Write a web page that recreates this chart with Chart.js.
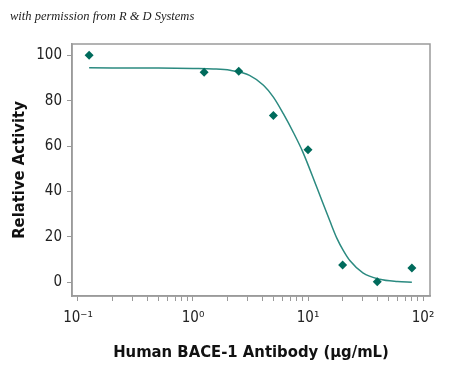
<!DOCTYPE html>
<html>
<head>
<meta charset="utf-8">
<script src="https://cdn.jsdelivr.net/npm/chart.js@4"></script>
<style>
  html, body { margin: 0; padding: 0; background: #fff; }
  #wrap { width: 450px; height: 368px; }
</style>
</head>
<body>
<div id="wrap"><canvas id="chart"></canvas></div>
<script>
// measured points (µg/mL, % activity)
const doseValues = [0.125, 1.25, 2.5, 5, 10, 20, 40, 80];
const activityValues = [100, 92.6, 93, 73.5, 58.4, 7.6, 0.3, 6.3];

// fitted curve
const curveDose = [0.125, 0.5, 1, 1.5, 2.1, 3.1, 4.1, 5, 6.1, 7.5, 9, 11.9, 15.5, 17.8, 20.3, 23.2, 30, 42, 60, 80];
const curveActivity = [94.5, 94.4, 94.2, 94, 93.4, 91.2, 86.8, 81.6, 74.3, 65.8, 57.5, 42, 27, 19.5, 14, 9.5, 4.2, 1.4, 0.4, 0.1];

const yTicks = [0, 20, 40, 60, 80, 100];
const xTickLabels = { '-1': '10⁻¹', '0': '10⁰', '1': '10¹', '2': '10²' };

const TEAL = '#006b5c';
const LINE = '#2b8a80';
const FRAME = '#9a9a9a';
const FONT = "'DejaVu Sans Condensed', 'DejaVu Sans', sans-serif";

// gray box around the plot area
const frame = {
  id: 'frame',
  afterDraw(chart) {
    const { ctx, chartArea: a } = chart;
    ctx.save();
    ctx.strokeStyle = FRAME;
    ctx.lineWidth = 1.5;
    ctx.strokeRect(a.left, a.top, a.right - a.left, a.bottom - a.top);
    ctx.restore();
  },
};

new Chart(document.getElementById('chart'), {
  type: 'line',
  data: {
    datasets: [
      {
        label: 'fit',
        data: curveDose.map((d, i) => ({ x: d, y: curveActivity[i] })),
        borderColor: LINE,
        borderWidth: 1.5,
        pointRadius: 0,
        cubicInterpolationMode: 'monotone',
        order: 2,
      },
      {
        label: 'data',
        data: doseValues.map((d, i) => ({ x: d, y: activityValues[i] })),
        showLine: false,
        pointStyle: 'rectRot',
        pointRadius: 4.5,
        backgroundColor: TEAL,
        borderColor: TEAL,
        borderWidth: 0,
        order: 1,
      },
    ],
  },
  options: {
    responsive: true,
    maintainAspectRatio: false,
    animation: false,
    layout: { padding: { top: 0, right: 20, bottom: 0, left: 10 } },
    plugins: {
      legend: { display: false },
      tooltip: { enabled: false },
      title: {
        display: true,
        text: 'with permission from R & D Systems',
        align: 'start',
        color: '#222',
        font: { family: "'Liberation Serif', serif", style: 'italic', size: 12.5, weight: 'normal' },
        padding: { top: 9, bottom: 20 },
      },
    },
    scales: {
      x: {
        type: 'logarithmic',
        min: 0.0887,
        max: 115,
        border: { color: FRAME, width: 1.5 },
        grid: { drawOnChartArea: false, color: FRAME, tickLength: 5, tickWidth: 1 },
        ticks: {
          autoSkip: false,
          maxRotation: 0,
          color: '#222',
          padding: 8,
          font: { family: FONT, size: 15 },
          callback: (val) => {
            const e = Math.floor(Math.log10(val) + 1e-9);
            const m = val / Math.pow(10, e);
            if (Math.abs(m - Math.round(m)) > 1e-6) return null;
            if (Math.round(m) === 1) return xTickLabels[String(e)];
            return '';
          },
        },
        title: {
          display: true,
          text: 'Human BACE-1 Antibody (µg/mL)',
          color: '#111',
          font: { family: FONT, size: 16.5, weight: 'bold' },
          padding: { top: 8, bottom: 5 },
        },
        afterFit: (scale) => { scale.height = 72; },
      },
      y: {
        min: -6,
        max: 105,
        border: { color: FRAME, width: 1.5 },
        grid: { drawOnChartArea: false, color: FRAME, tickLength: 5, tickWidth: 1 },
        afterBuildTicks: (scale) => { scale.ticks = yTicks.map(v => ({ value: v })); },
        ticks: {
          color: '#222',
          padding: 5,
          font: { family: FONT, size: 15 },
        },
        title: {
          display: true,
          text: 'Relative Activity',
          color: '#111',
          font: { family: FONT, size: 16.5, weight: 'bold' },
          padding: { top: 0, bottom: 4 },
        },
        afterFit: (scale) => { scale.width = 62; },
      },
    },
  },
  plugins: [frame],
});
</script>
</body>
</html>
